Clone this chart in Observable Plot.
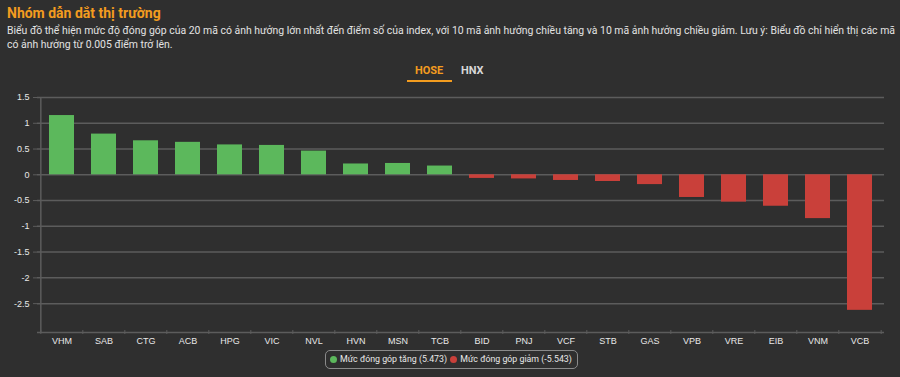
<!DOCTYPE html>
<html><head><meta charset="utf-8">
<script src="https://cdn.jsdelivr.net/npm/d3@7"></script>
<script src="https://cdn.jsdelivr.net/npm/@observablehq/plot@0.6"></script>
<style>
html,body{margin:0;padding:0;background:#2f2f2f;width:900px;height:377px;overflow:hidden;font-family:Roboto,"Liberation Sans",Arial,sans-serif;}
#title{position:absolute;left:7px;top:5px;font-size:14px;font-weight:bold;color:#f39c1f;}
#sub{position:absolute;left:7px;top:24px;font-size:10.45px;line-height:14px;color:#e2e2e2;white-space:nowrap;}
#tabs{position:absolute;top:64px;left:0;width:900px;height:20px;}
.tab{position:absolute;font-size:11px;font-weight:bold;}
#chart{position:absolute;left:0;top:86px;}
#legend{position:absolute;top:350px;left:325px;height:17px;border:1px solid #8a8a8a;border-radius:5px;padding:0 5px 0 4px;font-size:8.8px;color:#e8e8e8;line-height:17px;white-space:nowrap;}
.dot{display:inline-block;width:7px;height:7px;border-radius:50%;margin-right:3px;vertical-align:-0.5px;}
</style></head>
<body>
<div id="title">Nhóm dẫn dắt thị trường</div>
<div id="sub">Biểu đồ thể hiện mức độ đóng góp của 20 mã có ảnh hưởng lớn nhất đến điểm số của index, với 10 mã ảnh hưởng chiều tăng và 10 mã ảnh hưởng chiều giảm. Lưu ý: Biểu đồ chỉ hiển thị các mã<br>có ảnh hưởng từ 0.005 điểm trở lên.</div>
<div id="tabs">
  <span class="tab" style="left:415px;top:0;color:#f39c1f;">HOSE</span>
  <div style="position:absolute;left:407px;top:16px;width:45px;height:2px;background:#f39c1f;"></div>
  <span class="tab" style="left:461px;top:0;color:#d8d8d8;">HNX</span>
</div>
<div id="chart"></div>
<div id="legend"><span class="dot" style="background:#5cb85c"></span>Mức đóng góp tăng (5.473) <span class="dot" style="background:#c9403a;margin-left:1px"></span>Mức đóng góp giảm (-5.543)</div>
<script>
const symbols = ["VHM","SAB","CTG","ACB","HPG","VIC","NVL","HVN","MSN","TCB","BID","PNJ","VCF","STB","GAS","VPB","VRE","EIB","VNM","VCB"];
const contributions = [1.15,0.79,0.66,0.63,0.58,0.57,0.46,0.21,0.22,0.17,-0.07,-0.08,-0.11,-0.13,-0.19,-0.44,-0.53,-0.61,-0.85,-2.63];
const yTicks = [1.5,1,0.5,0,-0.5,-1,-1.5,-2,-2.5];
const yDomain = [-3.06, 1.5];
const upColor = "#5cb85c", downColor = "#c9403a";

const data = symbols.map((s,i)=>({symbol:s, value:contributions[i]}));
const W = 900, H = 264, mL = 37, mR = 16;
const step = (W - mL - mR) / symbols.length;
const axisColor = "#5c5c5c";

const chart = Plot.plot({
  width: W, height: H,
  marginLeft: mL, marginRight: mR, marginTop: 11, marginBottom: 18,
  style: {background: "transparent", color: "#e0e0e0", fontFamily: "'Liberation Sans', Arial, sans-serif", fontSize: "9px"},
  x: {domain: symbols, paddingInner: 0.4, paddingOuter: 0.2, label: null},
  y: {domain: yDomain, label: null},
  marks: [
    Plot.gridY(yTicks, {stroke: axisColor, strokeOpacity: 1, strokeWidth: 1.5}),
    Plot.ruleY([yDomain[0]], {stroke: axisColor, strokeWidth: 1.5}),
    Plot.ruleX([symbols[0]], {dx: -step/2, stroke: axisColor, strokeWidth: 1.5}),
    Plot.axisY(yTicks, {tickSize: 4, stroke: axisColor, tickPadding: 4, tickFormat: d => String(d), fill: "#e8e8e8"}),
    Plot.axisX({tickSize: 0, tickPadding: 5, fill: "#e8e8e8"}),
    Plot.axisX({tickSize: 4, dx: -step/2, dy: -2, stroke: axisColor, tickFormat: () => ""}),
    Plot.axisX([symbols[symbols.length-1]], {tickSize: 4, dx: step/2, dy: -2, stroke: axisColor, tickFormat: () => ""}),
    Plot.barY(data, {x: "symbol", y: "value", fill: d => d.value >= 0 ? upColor : downColor})
  ]
});
document.getElementById("chart").appendChild(chart);
</script>
</body></html>
